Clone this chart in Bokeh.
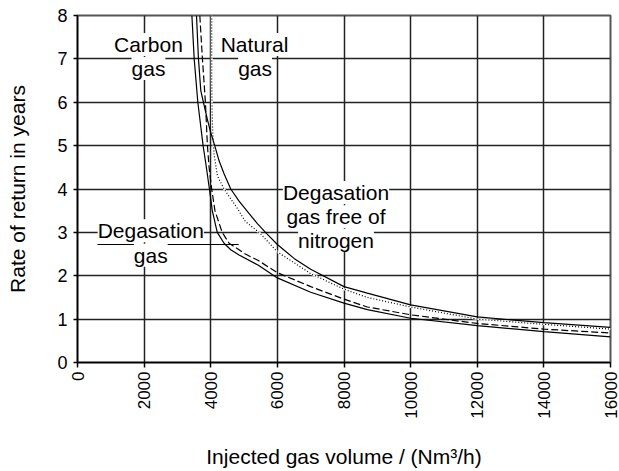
import math
from bokeh.plotting import figure
from bokeh.models import Label, FixedTicker
from bokeh.embed import file_html
from bokeh.resources import INLINE

# ---- data ----
x_ticks = [0, 2000, 4000, 6000, 8000, 10000, 12000, 14000, 16000]
y_ticks = [0, 1, 2, 3, 4, 5, 6, 7, 8]

# Degasation gas (lower solid)
deg_x = [3434, 3503, 3612, 3770, 3850, 3960, 4046, 4195, 4400, 4600, 4850, 5430, 6000, 7000, 8000, 8700, 10000, 12000, 14000, 16000]
deg_y = [8.0, 7.0, 6.0, 5.0, 4.6, 4.0, 3.5, 3.0, 2.75, 2.6, 2.48, 2.24, 1.95, 1.62, 1.37, 1.22, 1.02, 0.85, 0.71, 0.59]

# Carbon gas (dashed)
carb_x = [3672, 3750, 3840, 3900, 3950, 4028, 4126, 4343, 4550, 5040, 5430, 6000, 7000, 8000, 8700, 10000, 12000, 14000, 16000]
carb_y = [8.0, 7.0, 6.0, 5.0, 4.5, 4.0, 3.5, 3.0, 2.75, 2.5, 2.35, 2.07, 1.75, 1.46, 1.28, 1.1, 0.9, 0.77, 0.68]

# Natural gas (dotted)
nat_x = [4030, 4030, 4040, 4060, 4100, 4200, 4400, 4800, 5040, 5480, 6000, 7000, 8000, 8700, 10000, 12000, 14000, 16000]
nat_y = [8.0, 6.5, 5.8, 5.3, 4.8, 4.3, 4.0, 3.55, 3.25, 2.98, 2.55, 2.05, 1.69, 1.5, 1.28, 1.0, 0.88, 0.77]

# Degasation gas free of nitrogen (upper solid)
free_x = [3572, 3631, 3701, 3780, 3900, 4000, 4120, 4250, 4400, 4600, 4850, 5135, 5400, 5679, 6000, 6500, 7000, 8000, 8700, 10000, 12000, 14000, 16000]
free_y = [8.0, 7.0, 6.27, 6.0, 5.6, 5.3, 5.0, 4.65, 4.35, 4.0, 3.72, 3.45, 3.2, 2.97, 2.72, 2.4, 2.15, 1.75, 1.6, 1.33, 1.05, 0.92, 0.81]

FONT = "Liberation Sans"

p = figure(width=619, height=471, x_range=(0, 16000), y_range=(0, 8),
           output_backend="svg", toolbar_location=None,
           min_border_left=77, min_border_top=15, min_border_right=9, min_border_bottom=109)
p.background_fill_color = "white"
p.border_fill_color = "white"
p.outline_line_color = "#555555"
p.outline_line_width = 2

p.xaxis.ticker = FixedTicker(ticks=x_ticks)
p.yaxis.ticker = FixedTicker(ticks=y_ticks)
p.xaxis.major_label_orientation = math.pi / 2
for ax in (p.xaxis, p.yaxis):
    ax.axis_line_color = "black"
    ax.axis_line_width = 1.5
    ax.major_tick_line_color = "black"
    ax.major_tick_line_width = 1.5
    ax.major_tick_in = 0
    ax.minor_tick_line_color = None
    ax.major_label_text_font = FONT
    ax.major_label_text_color = "black"
    ax.axis_label_text_font = FONT
    ax.axis_label_text_font_size = "21px"
    ax.axis_label_text_font_style = "normal"
    ax.axis_label_text_color = "black"
p.yaxis.major_label_text_font_size = "18px"
p.xaxis.major_label_text_font_size = "17px"
p.yaxis.major_tick_out = 4
p.xaxis.major_tick_out = 5
p.yaxis.major_label_standoff = 6
p.xaxis.major_label_standoff = 4
p.xaxis.axis_label = "Injected gas volume / (Nm\u00b3/h)"
p.yaxis.axis_label = "Rate of return in years"
p.xaxis.axis_label_standoff = 23
p.yaxis.axis_label_standoff = 25

p.grid.grid_line_color = "#222222"
p.grid.grid_line_width = 1.5
p.xgrid.ticker = FixedTicker(ticks=x_ticks)
p.ygrid.ticker = FixedTicker(ticks=y_ticks)

# curves
p.line(deg_x, deg_y, line_color="black", line_width=1.2)
p.line(carb_x, carb_y, line_color="black", line_width=1.2, line_dash="7 3")
p.line(nat_x, nat_y, line_color="white", line_width=2)
p.line(nat_x, nat_y, line_color="black", line_width=1.2, line_dash="1 2")
p.line(free_x, free_y, line_color="black", line_width=1.2)

# leader line for "Degasation gas"
p.line([600, 4840], [2.72, 2.72], line_color="black", line_width=1.2)

def lab(x, y, t):
    p.add_layout(Label(x=x, y=y, text=t, text_align="center", text_baseline="middle",
                       text_font=FONT, text_font_size="21px", text_color="black",
                       background_fill_color="white", padding=0))

lab(2130, 7.33, "Carbon")
lab(2130, 6.78, "gas")
lab(5315, 7.33, "Natural")
lab(5330, 6.78, "gas")
lab(2200, 3.04, "Degasation")
lab(2200, 2.47, "gas")
lab(7760, 3.92, "Degasation")
lab(7760, 3.36, "gas free of")
lab(7760, 2.81, "nitrogen")

open("out.html", "w").write(file_html(p, INLINE))
